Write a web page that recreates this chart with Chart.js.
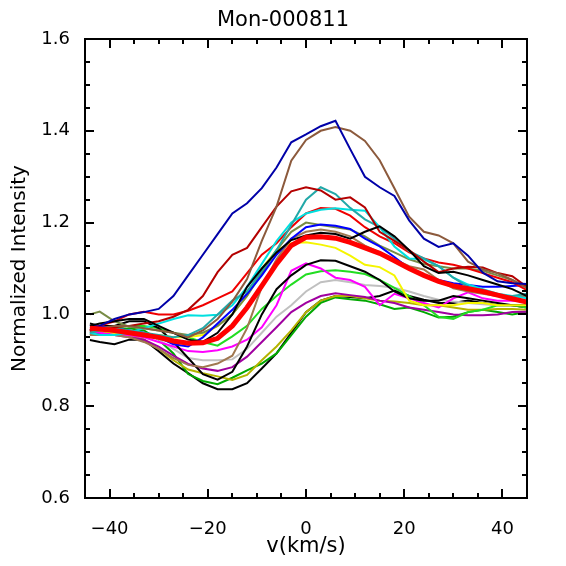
<!DOCTYPE html>
<html>
<head>
<meta charset="utf-8">
<title>Mon-000811</title>
<script src="https://cdn.jsdelivr.net/npm/chart.js@4.4.1/dist/chart.umd.min.js"></script>
<style>
  html, body { margin: 0; padding: 0; background: #fff; }
  #wrap { width: 566px; height: 566px; }
</style>
</head>
<body>
<div id="wrap"><canvas id="profileChart"></canvas></div>
<script>
// ---------------------- data ----------------------
const velocity = [-44, -42, -39, -36, -33, -30, -27, -24, -21, -18, -15, -12, -9, -6, -3, 0,
  3, 6, 9, 12, 15, 18, 21, 24, 27, 30, 33, 36, 39, 42, 45];

const xTickValues = [-40, -20, 0, 20, 40];
const yTickValues = [0.6, 0.8, 1.0, 1.2, 1.4, 1.6];

const meanProfile = [0.97, 0.968, 0.965, 0.96, 0.955, 0.95, 0.942, 0.937, 0.938, 0.948, 0.975, 1.015, 1.062, 1.11, 1.15, 1.168,
  1.169, 1.166, 1.157, 1.145, 1.133, 1.117, 1.1, 1.085, 1.072, 1.062, 1.056, 1.05, 1.042, 1.034, 1.027];
const navyProfile = [0.965, 0.975, 0.99, 1.0, 1.005, 1.012, 1.04, 1.085, 1.13, 1.175, 1.22, 1.242, 1.275, 1.32, 1.375, 1.392,
  1.41, 1.422, 1.36, 1.3, 1.277, 1.258, 1.205, 1.165, 1.147, 1.155, 1.128, 1.091, 1.072, 1.068, 1.066];
const brownProfile = [0.965, 0.97, 0.975, 0.975, 0.97, 0.965, 0.96, 0.95, 0.965, 0.99, 1.028, 1.077, 1.16, 1.235, 1.335, 1.38,
  1.4, 1.408, 1.4, 1.378, 1.336, 1.275, 1.213, 1.18, 1.172, 1.155, 1.115, 1.098, 1.09, 1.075, 1.057];
const darkRedProfile = [0.965, 0.968, 0.972, 0.975, 0.98, 0.985, 0.995, 1.01, 1.04, 1.092, 1.13, 1.145, 1.19, 1.235, 1.268, 1.277,
  1.27, 1.25, 1.255, 1.233, 1.18, 1.16, 1.14, 1.115, 1.092, 1.1, 1.104, 1.102, 1.09, 1.083, 1.06];
const tealProfile = [0.96, 0.965, 0.97, 0.965, 0.96, 0.955, 0.95, 0.955, 0.97, 1.0, 1.03, 1.05, 1.095, 1.14, 1.195, 1.25,
  1.277, 1.262, 1.232, 1.207, 1.19, 1.165, 1.138, 1.122, 1.105, 1.08, 1.06, 1.052, 1.04, 1.04, 1.045];
const cyanProfile = [0.96, 0.955, 0.955, 0.96, 0.97, 0.98, 0.99, 0.998, 0.997, 0.999, 1.02, 1.06, 1.11, 1.16, 1.2, 1.22,
  1.228, 1.231, 1.228, 1.226, 1.19, 1.148, 1.122, 1.12, 1.105, 1.08, 1.065, 1.055, 1.045, 1.04, 1.035];
const redProfile = [0.97, 0.975, 0.985, 1.0, 1.006, 1.0, 1.0, 1.008, 1.02, 1.035, 1.05, 1.09, 1.13, 1.155, 1.19, 1.22,
  1.232, 1.23, 1.215, 1.19, 1.17, 1.155, 1.135, 1.122, 1.113, 1.108, 1.1, 1.09, 1.08, 1.07, 1.053];
const oliveProfile = [1.0, 1.006, 0.985, 0.973, 0.97, 0.965, 0.96, 0.955, 0.96, 0.975, 1.0, 1.04, 1.09, 1.14, 1.18, 1.2,
  1.195, 1.19, 1.185, 1.17, 1.15, 1.135, 1.12, 1.11, 1.105, 1.1, 1.1, 1.095, 1.085, 1.075, 1.06];
const blueProfile = [0.975, 0.975, 0.97, 0.965, 0.96, 0.95, 0.935, 0.93, 0.95, 0.98, 1.01, 1.045, 1.085, 1.13, 1.165, 1.19,
  1.196, 1.193, 1.186, 1.165, 1.148, 1.125, 1.1, 1.085, 1.075, 1.068, 1.064, 1.06, 1.06, 1.062, 1.064];
const blackUpper = [0.975, 0.98, 0.985, 0.99, 0.99, 0.975, 0.96, 0.945, 0.94, 0.96, 1.0, 1.06, 1.1, 1.135, 1.162, 1.172,
  1.178, 1.175, 1.165, 1.18, 1.192, 1.17, 1.14, 1.105, 1.09, 1.093, 1.085, 1.075, 1.065, 1.055, 1.04];
const tanProfile = [0.955, 0.955, 0.955, 0.95, 0.94, 0.925, 0.905, 0.89, 0.885, 0.893, 0.91, 0.97, 1.06, 1.12, 1.165, 1.18,
  1.185, 1.18, 1.17, 1.15, 1.135, 1.12, 1.105, 1.098, 1.075, 1.057, 1.05, 1.045, 1.04, 1.04, 1.04];
const blackMiddle = [0.98, 0.975, 0.975, 0.985, 0.985, 0.97, 0.94, 0.905, 0.87, 0.858, 0.875, 0.93, 1.0, 1.055, 1.085, 1.108,
  1.118, 1.117, 1.105, 1.093, 1.075, 1.05, 1.035, 1.03, 1.03, 1.04, 1.035, 1.03, 1.025, 1.02, 1.02];
const blackLower = [0.944, 0.94, 0.935, 0.945, 0.945, 0.92, 0.893, 0.872, 0.85, 0.837, 0.837, 0.85, 0.882, 0.915, 0.96, 1.005,
  1.03, 1.04, 1.038, 1.035, 1.04, 1.052, 1.04, 1.032, 1.025, 1.025, 1.03, 1.025, 1.02, 1.02, 1.015];
const greenProfile = [0.955, 0.96, 0.965, 0.97, 0.965, 0.945, 0.915, 0.87, 0.855, 0.848, 0.862, 0.878, 0.893, 0.915, 0.955, 0.995,
  1.025, 1.037, 1.033, 1.03, 1.022, 1.012, 1.015, 1.005, 0.993, 0.995, 1.005, 1.01, 1.005, 1.0, 1.005];
const limeProfile = [0.96, 0.965, 0.97, 0.975, 0.975, 0.97, 0.96, 0.95, 0.94, 0.932, 0.952, 0.975, 1.012, 1.04, 1.065, 1.087,
  1.094, 1.096, 1.093, 1.088, 1.075, 1.058, 1.04, 1.02, 0.995, 0.99, 1.005, 1.01, 1.02, 1.02, 1.015];
const yellowProfile = [0.965, 0.965, 0.96, 0.96, 0.955, 0.955, 0.95, 0.95, 0.955, 0.975, 1.0, 1.04, 1.1, 1.14, 1.155, 1.157,
  1.152, 1.145, 1.128, 1.108, 1.103, 1.085, 1.03, 1.02, 1.02, 1.02, 1.025, 1.025, 1.02, 1.02, 1.02];
const magentaProfile = [0.965, 0.96, 0.955, 0.955, 0.95, 0.94, 0.93, 0.92, 0.918, 0.922, 0.93, 0.945, 0.972, 1.02, 1.095, 1.111,
  1.1, 1.08, 1.075, 1.06, 1.02, 1.045, 1.035, 1.025, 1.015, 1.035, 1.048, 1.035, 1.03, 1.03, 1.03];
const grayProfile = [0.97, 0.97, 0.968, 0.965, 0.96, 0.945, 0.925, 0.905, 0.9, 0.9, 0.902, 0.925, 0.96, 0.995, 1.02, 1.05,
  1.07, 1.075, 1.07, 1.064, 1.062, 1.058, 1.05, 1.04, 1.032, 1.028, 1.025, 1.022, 1.02, 1.02, 1.02];
const purpleProfile = [0.96, 0.958, 0.955, 0.95, 0.945, 0.93, 0.91, 0.892, 0.882, 0.877, 0.885, 0.908, 0.94, 0.972, 1.005, 1.025,
  1.04, 1.046, 1.042, 1.038, 1.03, 1.025, 1.015, 1.01, 1.005, 1.0, 0.998, 0.998, 1.0, 1.005, 1.006];
const darkYellowProfile = [0.965, 0.962, 0.96, 0.955, 0.945, 0.925, 0.9, 0.88, 0.872, 0.865, 0.857, 0.868, 0.9, 0.93, 0.965, 1.005,
  1.03, 1.04, 1.04, 1.035, 1.03, 1.028, 1.025, 1.02, 1.02, 1.015, 1.01, 1.01, 1.012, 1.012, 1.01];

// first entry is drawn on top
const seriesList = [
  { values: meanProfile, color: "#ff0000", width: 5 },
  { values: navyProfile, color: "#0000a8", width: 2 },
  { values: brownProfile, color: "#8c5a3c", width: 2 },
  { values: blackUpper, color: "#000000", width: 2 },
  { values: darkRedProfile, color: "#b40000", width: 2 },
  { values: tealProfile, color: "#22a8a8", width: 2 },
  { values: cyanProfile, color: "#00e0e0", width: 2 },
  { values: redProfile, color: "#f00000", width: 2 },
  { values: blueProfile, color: "#0000ff", width: 2 },
  { values: oliveProfile, color: "#788c46", width: 2 },
  { values: tanProfile, color: "#a07850", width: 2 },
  { values: yellowProfile, color: "#f5f500", width: 2 },
  { values: blackMiddle, color: "#000000", width: 2 },
  { values: magentaProfile, color: "#ff00ff", width: 2 },
  { values: limeProfile, color: "#22dd22", width: 2 },
  { values: grayProfile, color: "#c0c0c0", width: 2 },
  { values: purpleProfile, color: "#a000a0", width: 2 },
  { values: darkYellowProfile, color: "#b4b400", width: 2 },
  { values: greenProfile, color: "#00a800", width: 2 },
  { values: blackLower, color: "#000000", width: 2 }
];

// ---------------------- IDL style box + inward ticks ----------------------
const idlFrame = {
  id: "idlFrame",
  afterDatasetsDraw(chart) {
    const { ctx, chartArea: a, scales } = chart;
    const x = scales.x, y = scales.y;
    ctx.save();
    ctx.strokeStyle = "#000";
    ctx.lineWidth = 2;
    ctx.strokeRect(a.left, a.top, a.right - a.left, a.bottom - a.top);

    ctx.beginPath();
    // x: major every 20, minor every 5
    for (let v = -40; v <= 40; v += 5) {
      const px = Math.round(x.getPixelForValue(v));
      const len = v % 20 === 0 ? 9 : 5;
      ctx.moveTo(px, a.bottom);
      ctx.lineTo(px, a.bottom - len);
      ctx.moveTo(px, a.top);
      ctx.lineTo(px, a.top + len);
    }
    // y: major every 0.2, minor every 0.05
    for (let i = 1; i < 20; i++) {
      const py = Math.round(y.getPixelForValue(0.6 + i * 0.05));
      const len = i % 4 === 0 ? 9 : 5;
      ctx.moveTo(a.left, py);
      ctx.lineTo(a.left + len, py);
      ctx.moveTo(a.right, py);
      ctx.lineTo(a.right - len, py);
    }
    ctx.stroke();
    ctx.restore();
  }
};

Chart.defaults.font.family = "'DejaVu Sans', sans-serif";
Chart.defaults.color = "#000";

const tickFont = { size: 18, lineHeight: 1.2 };

new Chart(document.getElementById("profileChart").getContext("2d"), {
  type: "line",
  data: {
    datasets: seriesList.map(s => ({
      data: velocity.map((v, i) => ({ x: v, y: s.values[i] })),
      borderColor: s.color,
      borderWidth: s.width,
      pointRadius: 0,
      tension: 0,
      fill: false
    }))
  },
  options: {
    responsive: true,
    maintainAspectRatio: false,
    devicePixelRatio: 1,
    animation: false,
    events: [],
    layout: { padding: 0 },
    plugins: {
      legend: { display: false },
      tooltip: { enabled: false },
      title: {
        display: true,
        text: "Mon-000811",
        color: "#000",
        font: { size: 21, weight: "normal", lineHeight: 1.2 },
        padding: { top: 8.4, bottom: 5.4 }
      }
    },
    scales: {
      x: {
        type: "linear",
        min: -45,
        max: 45,
        grid: { display: false },
        border: { display: false },
        afterBuildTicks: s => { s.ticks = xTickValues.map(v => ({ value: v })); },
        afterFit: s => { s.height = 68; },
        ticks: {
          font: tickFont,
          padding: 13,
          maxRotation: 0,
          callback: v => (v < 0 ? "\u2212" + Math.abs(v) : String(v))
        },
        title: {
          display: true,
          text: "v(km/s)",
          font: { size: 21, lineHeight: 1.2 },
          padding: { top: 0, bottom: 6.4 }
        }
      },
      y: {
        type: "linear",
        min: 0.6,
        max: 1.6,
        grid: { display: false },
        border: { display: false },
        afterBuildTicks: s => { s.ticks = yTickValues.map(v => ({ value: v })); },
        afterFit: s => { s.width = 85; },
        ticks: {
          font: tickFont,
          padding: 7,
          callback: v => v.toFixed(1)
        },
        title: {
          display: true,
          text: "Normalized Intensity",
          font: { size: 20, lineHeight: 1.2 },
          padding: { top: 8, bottom: 0 }
        }
      },
      yRight: {
        type: "linear",
        position: "right",
        display: true,
        grid: { display: false },
        border: { display: false },
        ticks: { display: false },
        afterFit: s => { s.width = 39; }
      }
    }
  },
  plugins: [idlFrame]
});
</script>
</body>
</html>
